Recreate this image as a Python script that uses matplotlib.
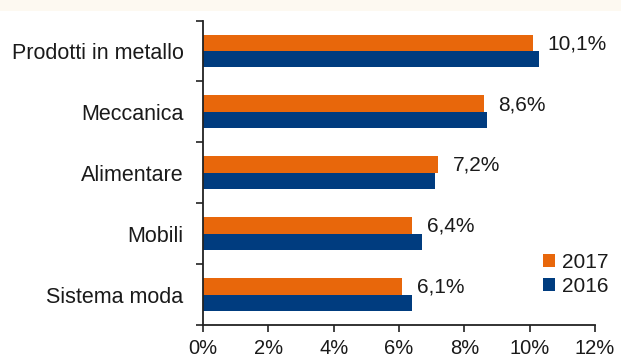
import numpy as np
import matplotlib
matplotlib.use('Agg')
import matplotlib.pyplot as plt
import matplotlib.patches as mpatches

plt.rcParams['font.family'] = ['Liberation Sans', 'DejaVu Sans']

# dati
categorie = ['Prodotti in metallo', 'Meccanica', 'Alimentare', 'Mobili', 'Sistema moda']
val_2017 = [10.1, 8.6, 7.2, 6.4, 6.1]
val_2016 = [10.3, 8.7, 7.1, 6.7, 6.4]
etichette = ['10,1%', '8,6%', '7,2%', '6,4%', '6,1%']
xtick_vals = [0, 2, 4, 6, 8, 10, 12]

col_2017 = '#E8670B'
col_2016 = '#003C7F'
col_testo = '#1a1a1a'

fig = plt.figure(figsize=(6.21, 3.6), dpi=100)
fig.patch.set_facecolor('white')
# striscia color crema in alto
fig.patches.append(mpatches.Rectangle((0, 0.97), 1, 0.03, transform=fig.transFigure,
                                      facecolor='#FDF9F1', edgecolor='none', zorder=0))

ax = fig.add_axes([0.327, 0.097, 0.631, 0.846])

n = len(categorie)
y = np.arange(n)
h = 0.27

ax.barh(y - h / 2, val_2017, height=h, color=col_2017, label='2017')
ax.barh(y + h / 2, val_2016, height=h, color=col_2016, label='2016')

# etichette valori (riferite alla barra 2017)
for i in range(n):
    ax.text(val_2017[i] + 0.45, y[i] - 0.12, etichette[i], va='center', ha='left',
            fontsize=15, color=col_testo)

ax.set_xlim(0, 12)
ax.set_ylim(n - 0.5, -0.5)

ax.set_xticks(xtick_vals)
ax.set_xticklabels([f'{v}%' for v in xtick_vals], fontsize=14.5, color=col_testo)

# etichette categorie al centro, tick ai bordi
ax.set_yticks(y)
ax.set_yticklabels(categorie, fontsize=15.5, color=col_testo)
ax.tick_params(axis='y', which='major', length=0, pad=14)
ax.set_yticks(np.arange(-0.5, n, 1), minor=True)
ax.tick_params(axis='y', which='minor', length=5, width=1.2, direction='out', color='#222222')
ax.tick_params(axis='x', length=5, width=1.2, direction='out', color='#222222', pad=5)

for s in ['top', 'right']:
    ax.spines[s].set_visible(False)
for s in ['left', 'bottom']:
    ax.spines[s].set_linewidth(1.3)
    ax.spines[s].set_color('#222222')

leg = ax.legend(loc='center left', bbox_to_anchor=(0.82, 0.167), frameon=False,
                fontsize=15, handlelength=0.55, handleheight=0.55, handletextpad=0.35,
                labelspacing=0.25, borderpad=0.4)
for t in leg.get_texts():
    t.set_color(col_testo)

plt.savefig('out.png', dpi=100)
